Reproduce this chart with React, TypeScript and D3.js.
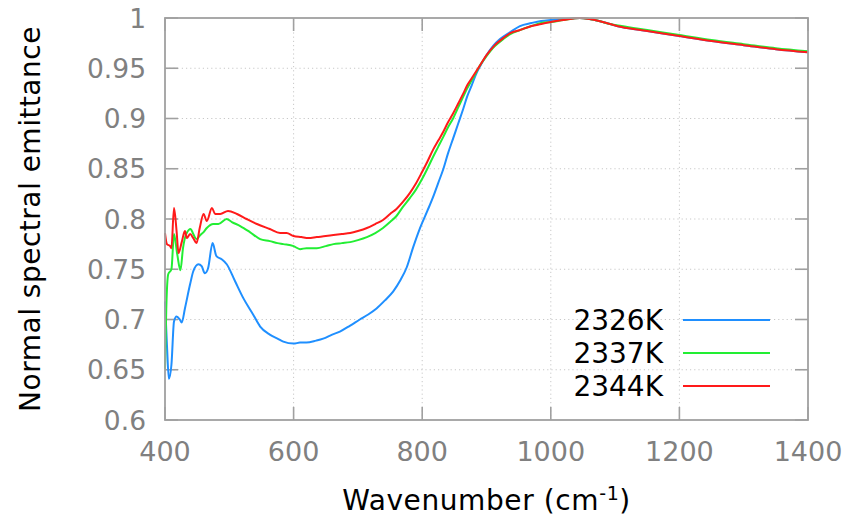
import React from "react";
import * as d3 from "d3";

// Wavenumber (cm^-1) / emittance pairs for each temperature
const wn2326 = [400, 403, 406, 410, 414, 418, 423, 426, 431, 439, 444, 452, 457, 462, 467, 474, 480, 488, 496, 509, 522, 537, 548, 563, 575, 584, 600, 610, 620, 635, 646, 660, 672, 688, 703, 716, 729, 742, 755, 766, 776, 786, 796, 808, 817, 825, 833, 840, 848, 856, 864, 870, 877, 883, 890, 900, 910, 921, 937, 952, 970, 985, 1000, 1020, 1045, 1060, 1075, 1092, 1110, 1150, 1200, 1250, 1300, 1350, 1400];
const em2326 = [0.718, 0.675, 0.641, 0.655, 0.698, 0.703, 0.700, 0.697, 0.711, 0.735, 0.748, 0.755, 0.753, 0.746, 0.751, 0.776, 0.763, 0.760, 0.755, 0.738, 0.721, 0.705, 0.693, 0.685, 0.681, 0.678, 0.676, 0.677, 0.677, 0.679, 0.681, 0.685, 0.688, 0.694, 0.700, 0.705, 0.711, 0.719, 0.728, 0.739, 0.752, 0.772, 0.790, 0.808, 0.822, 0.836, 0.850, 0.865, 0.880, 0.895, 0.910, 0.922, 0.933, 0.943, 0.952, 0.963, 0.972, 0.979, 0.986, 0.992, 0.995, 0.997, 0.998, 0.999, 1.000, 0.999, 0.997, 0.994, 0.991, 0.987, 0.982, 0.977, 0.973, 0.969, 0.966];

const wn2337 = [400, 402, 405, 410, 414, 419, 424, 428, 433, 440, 444, 449, 455, 460, 465, 475, 483, 496, 504, 517, 532, 548, 563, 575, 584, 600, 610, 620, 636, 650, 662, 675, 688, 700, 714, 727, 739, 750, 760, 770, 781, 790, 800, 808, 817, 825, 833, 840, 848, 856, 864, 870, 877, 884, 890, 900, 913, 926, 937, 952, 970, 985, 1000, 1020, 1045, 1060, 1075, 1092, 1110, 1150, 1200, 1250, 1300, 1350, 1400];
const em2337 = [0.651, 0.711, 0.745, 0.750, 0.785, 0.765, 0.749, 0.771, 0.785, 0.790, 0.785, 0.780, 0.784, 0.787, 0.791, 0.795, 0.795, 0.800, 0.797, 0.793, 0.787, 0.780, 0.778, 0.776, 0.775, 0.773, 0.770, 0.771, 0.771, 0.773, 0.775, 0.776, 0.777, 0.779, 0.782, 0.786, 0.791, 0.797, 0.803, 0.812, 0.821, 0.829, 0.840, 0.850, 0.862, 0.872, 0.882, 0.891, 0.900, 0.911, 0.922, 0.930, 0.938, 0.946, 0.953, 0.962, 0.972, 0.979, 0.984, 0.988, 0.992, 0.995, 0.996, 0.998, 1.000, 0.999, 0.997, 0.994, 0.992, 0.988, 0.983, 0.978, 0.974, 0.970, 0.967];

const wn2344 = [400, 403, 408, 410, 414, 418, 421, 426, 431, 434, 439, 444, 449, 454, 460, 465, 473, 478, 486, 498, 512, 527, 543, 563, 579, 589, 600, 612, 623, 636, 650, 662, 675, 688, 700, 714, 727, 739, 750, 760, 770, 781, 790, 800, 808, 817, 825, 833, 840, 848, 856, 864, 870, 877, 884, 890, 900, 913, 926, 937, 952, 970, 985, 1000, 1020, 1045, 1060, 1075, 1092, 1110, 1150, 1200, 1250, 1300, 1350, 1400];
const em2344 = [0.786, 0.775, 0.773, 0.771, 0.811, 0.788, 0.766, 0.777, 0.788, 0.781, 0.785, 0.781, 0.776, 0.791, 0.805, 0.798, 0.811, 0.805, 0.805, 0.808, 0.805, 0.800, 0.795, 0.790, 0.786, 0.786, 0.783, 0.782, 0.781, 0.782, 0.783, 0.784, 0.785, 0.786, 0.788, 0.791, 0.795, 0.799, 0.805, 0.810, 0.817, 0.826, 0.835, 0.847, 0.857, 0.869, 0.878, 0.887, 0.896, 0.905, 0.915, 0.925, 0.933, 0.940, 0.947, 0.953, 0.963, 0.973, 0.980, 0.985, 0.988, 0.992, 0.994, 0.996, 0.998, 1.000, 0.999, 0.997, 0.994, 0.991, 0.987, 0.982, 0.977, 0.973, 0.969, 0.966];

const seriesLabels = ["2326K", "2337K", "2344K"];
const seriesColors = ["#1f8fff", "#22ee33", "#ff1a1a"];

const xTicks = [400, 600, 800, 1000, 1200, 1400];
const yTicks = [0.6, 0.65, 0.7, 0.75, 0.8, 0.85, 0.9, 0.95, 1];

const W = 852;
const H = 520;
const M = { left: 165, right: 44, top: 18, bottom: 100 };
const FONT = "'DejaVu Sans', Verdana, sans-serif";

export default function App() {
  const x = d3.scaleLinear().domain([400, 1400]).range([M.left, W - M.right]);
  const y = d3.scaleLinear().domain([0.6, 1]).range([H - M.bottom, M.top]);

  const series = [
    { wn: wn2326, em: em2326 },
    { wn: wn2337, em: em2337 },
    { wn: wn2344, em: em2344 },
  ].map((s, i) => ({
    label: seriesLabels[i],
    color: seriesColors[i],
    points: s.wn.map((w, j) => [w, s.em[j]] as [number, number]),
  }));

  const line = d3
    .line<[number, number]>()
    .x((d) => x(d[0]))
    .y((d) => y(d[1]))
    .curve(d3.curveMonotoneX);

  const [x0, x1] = x.range();
  const [y0, y1] = y.range();
  const tickLen = 13;
  const axisColor = "#a0a0a0";
  const gridColor = "#c8c8c8";
  const labelColor = "#808080";

  return (
    <svg width={W} height={H} style={{ display: "block", position: "absolute", left: 0, top: 0 }}>
      <rect width={W} height={H} fill="#fff" />
      {/* grid */}
      {xTicks.slice(1, -1).map((t) => (
        <line key={"gx" + t} x1={x(t)} x2={x(t)} y1={y0} y2={y1} stroke={gridColor} strokeWidth={1} strokeDasharray="1.2 3" />
      ))}
      {yTicks.slice(1, -1).map((t) => (
        <line key={"gy" + t} x1={x0} x2={x1} y1={y(t)} y2={y(t)} stroke={gridColor} strokeWidth={1} strokeDasharray="1.2 3" />
      ))}
      {/* mirrored inward ticks */}
      {xTicks.map((t) => (
        <g key={"tx" + t}>
          <line x1={x(t)} x2={x(t)} y1={y0} y2={y0 - tickLen} stroke={axisColor} strokeWidth={1.6} />
          <line x1={x(t)} x2={x(t)} y1={y1} y2={y1 + tickLen} stroke={axisColor} strokeWidth={1.6} />
        </g>
      ))}
      {yTicks.map((t) => (
        <g key={"ty" + t}>
          <line x1={x0} x2={x0 + tickLen} y1={y(t)} y2={y(t)} stroke={axisColor} strokeWidth={1.6} />
          <line x1={x1} x2={x1 - tickLen} y1={y(t)} y2={y(t)} stroke={axisColor} strokeWidth={1.6} />
        </g>
      ))}
      {/* data */}
      {series.map((s) => (
        <path key={s.label} d={line(s.points) ?? ""} fill="none" stroke={s.color} strokeWidth={2} strokeLinejoin="round" />
      ))}
      {/* frame */}
      <rect x={x0} y={y1} width={x1 - x0} height={y0 - y1} fill="none" stroke={axisColor} strokeWidth={1.8} />
      {/* tick labels */}
      {xTicks.map((t) => (
        <text key={"lx" + t} x={x(t)} y={y0 + 41} textAnchor="middle" fontFamily={FONT} fontSize={27} fill={labelColor}>
          {t}
        </text>
      ))}
      {yTicks.map((t) => (
        <text key={"ly" + t} x={x0 - 19} y={y(t)} dy="0.36em" textAnchor="end" fontFamily={FONT} fontSize={26.5} fill={labelColor}>
          {t}
        </text>
      ))}
      {/* axis titles */}
      <text x={(x0 + x1) / 2} y={H - 10} textAnchor="middle" fontFamily={FONT} fontSize={28} letterSpacing={0.6} fill="#000">
        Wavenumber (cm<tspan dy="-10" fontSize={19}>-1</tspan><tspan dy="10">)</tspan>
      </text>
      <text transform={`translate(30, ${(y0 + y1) / 2}) rotate(-90)`} dy="0.36em" textAnchor="middle" fontFamily={FONT} fontSize={28} letterSpacing={0.5} fill="#000">
        Normal spectral emittance
      </text>
      {/* legend */}
      {series.map((s, i) => {
        const ly = 320 + i * 33;
        return (
          <g key={"lg" + s.label}>
            <text x={663} y={ly} dy="0.36em" textAnchor="end" fontFamily={FONT} fontSize={28} fill="#000">
              {s.label}
            </text>
            <line x1={683} x2={770} y1={ly} y2={ly} stroke={s.color} strokeWidth={2} />
          </g>
        );
      })}
    </svg>
  );
}
